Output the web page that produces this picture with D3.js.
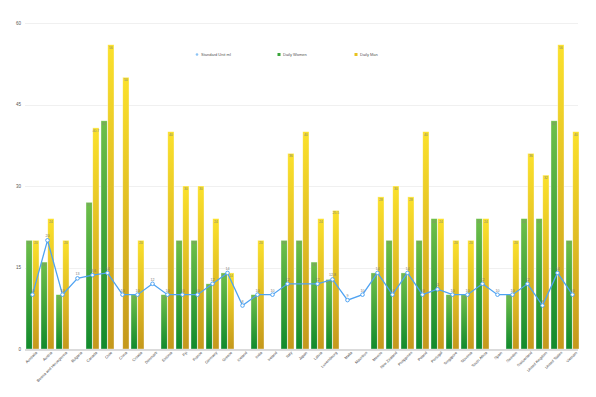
<!DOCTYPE html>
<html>
<head>
<meta charset="utf-8">
<script src="https://cdn.jsdelivr.net/npm/d3@7"></script>
<style>
  body { margin: 0; background: #fff; }
  svg { display: block; font-family: "Liberation Sans", Arial, sans-serif; }
</style>
</head>
<body>
<svg id="chart" width="596" height="397"></svg>
<script>
var categories = ['Australia', 'Austria', 'Bosnia and Herzegovina', 'Bulgaria', 'Canada', 'Chile', 'China',
  'Croatia', 'Denmark', 'Estonia', 'Fiji', 'France', 'Germany', 'Greece', 'Iceland', 'India', 'Ireland',
  'Italy', 'Japan', 'Latvia', 'Luxembourg', 'Malta', 'Mauritius', 'Mexico', 'New Zealand', 'Philippines',
  'Poland', 'Portugal', 'Singapore', 'Slovenia', 'South Africa', 'Spain', 'Sweden', 'Switzerland',
  'United Kingdom', 'United States', 'Vietnam'];

var dailyWomen = [20, 16, 10, null, 27, 42, null, 10, null, 10, 20, 20, 12, 14, null, 10, null,
  20, 20, 16, 12.8, null, null, 14, 20, 14, 20, 24, 10, 10, 24, null, 10, 24, 24, 42, 20];

var dailyMan = [20, 24, 20, null, 40.7, 56, 50, 20, null, 40, 30, 30, 24, 14, null, 20, null,
  36, 40, 24, 25.5, null, null, 28, 30, 28, 40, 24, 20, 20, 24, null, 20, 36, 32, 56, 40];

var standardUnit = [10, 20, 10, 13, 13.6, 14, 10, 10, 12, 10, 10, 10, 12, 14, 8, 10, 10,
  12, null, 12, 12.8, 9, 10, 14, 10, 14, 10, 11, 10, 10, 12, 10, 10, 12, 8, 14, 10];

var yTicks = [0, 15, 30, 45, 60];
var seriesNames = ['Standard Unit ml', 'Daily Women', 'Daily Man'];

var svg = d3.select('#chart');
var plotLeft = 25, plotRight = 580, plotTop = 23, plotBottom = 349;

var x = d3.scaleBand().domain(categories).range([plotLeft, plotRight]);
var y = d3.scaleLinear().domain([0, 60]).range([plotBottom, plotTop]);
var sub = d3.scaleBand().domain(['w', 'm']).range([1, 14]).paddingInner(0.08);

var defs = svg.append('defs');
function grad(id, c1, c2) {
  var g = defs.append('linearGradient').attr('id', id)
    .attr('x1', 0).attr('y1', 0).attr('x2', 0).attr('y2', 1);
  g.append('stop').attr('offset', '0%').attr('stop-color', c1);
  g.append('stop').attr('offset', '100%').attr('stop-color', c2);
}
grad('gw', '#6fbf4a', '#118a2c');
grad('gm', '#fbe12c', '#c4981c');

// grid + y labels
svg.append('g').selectAll('line').data(yTicks.slice(1)).enter().append('line')
  .attr('x1', plotLeft).attr('x2', plotRight - 2)
  .attr('y1', function(d) { return Math.round(y(d)) + 0.5; })
  .attr('y2', function(d) { return Math.round(y(d)) + 0.5; })
  .attr('stroke', '#f0f0f0').attr('stroke-width', 1);

svg.append('g').selectAll('text').data(yTicks).enter().append('text')
  .attr('x', 21).attr('y', function(d) { return y(d) + 1.5; })
  .attr('text-anchor', 'end').attr('font-size', 4.5).attr('fill', '#555')
  .text(function(d) { return d; });

// bars
var rows = categories.map(function(c, i) {
  return { cat: c, w: dailyWomen[i], m: dailyMan[i], s: standardUnit[i] };
});

function drawBars(key, fill) {
  var data = rows.filter(function(d) { return d[key] != null; });
  var g = svg.append('g');
  g.selectAll('rect').data(data).enter().append('rect')
    .attr('x', function(d) { return x(d.cat) + sub(key); })
    .attr('width', sub.bandwidth())
    .attr('y', function(d) { return y(d[key]); })
    .attr('height', function(d) { return plotBottom - y(d[key]); })
    .attr('fill', fill)
    .attr('stroke', 'rgba(255,255,255,0.6)').attr('stroke-width', 0.6);
  g.selectAll('text').data(data).enter().append('text')
    .attr('x', function(d) { return x(d.cat) + sub(key) + sub.bandwidth() / 2; })
    .attr('y', function(d) { return y(d[key]) + 4; })
    .attr('text-anchor', 'middle').attr('font-size', 3.6).attr('fill', '#8a8a7a')
    .text(function(d) { return d[key]; });
}
drawBars('w', 'url(#gw)');
drawBars('m', 'url(#gm)');

// x axis line
svg.append('line').attr('x1', plotLeft).attr('x2', plotRight - 2)
  .attr('y1', plotBottom + 1).attr('y2', plotBottom + 1)
  .attr('stroke', '#cfcfcf').attr('stroke-width', 1.6);

// x labels, rotated
svg.append('g').selectAll('text').data(categories).enter().append('text')
  .attr('transform', function(d) {
    return 'translate(' + (x(d) + x.bandwidth() / 2 + 5) + ',' + (plotBottom + 4) + ') rotate(-45)';
  })
  .attr('text-anchor', 'end').attr('font-size', 3.8).attr('fill', '#444')
  .text(function(d) { return d; });

// line series
var pts = rows.filter(function(d) { return d.s != null; });
var line = d3.line()
  .x(function(d) { return x(d.cat) + x.bandwidth() / 2; })
  .y(function(d) { return y(d.s); });
svg.append('path').datum(pts).attr('d', line)
  .attr('fill', 'none').attr('stroke', '#4fa3f2').attr('stroke-width', 1.3);
svg.append('g').selectAll('circle').data(pts).enter().append('circle')
  .attr('cx', function(d) { return x(d.cat) + x.bandwidth() / 2; })
  .attr('cy', function(d) { return y(d.s); })
  .attr('r', 1.8).attr('fill', '#fff').attr('stroke', '#4fa3f2').attr('stroke-width', 1);
svg.append('g').selectAll('text').data(pts).enter().append('text')
  .attr('x', function(d) { return x(d.cat) + x.bandwidth() / 2; })
  .attr('y', function(d) { return y(d.s) - 3; })
  .attr('text-anchor', 'middle').attr('font-size', 3.6).attr('fill', '#777')
  .text(function(d) { return d.s; });

// legend
var legendX = [197, 279, 356];
var legendColors = ['#8cc4f5', '#3aa53a', '#e8c21e'];
var lg = svg.append('g');
seriesNames.forEach(function(name, i) {
  if (i === 0) {
    lg.append('circle').attr('cx', legendX[i]).attr('cy', 54.5).attr('r', 1.3)
      .attr('fill', legendColors[i]);
  } else {
    lg.append('rect').attr('x', legendX[i] - 1.5).attr('y', 53).attr('width', 3).attr('height', 3)
      .attr('fill', legendColors[i]);
  }
  lg.append('text').attr('x', legendX[i] + 4).attr('y', 56)
    .attr('font-size', 4).attr('fill', '#555').text(name);
});
</script>
</body>
</html>
